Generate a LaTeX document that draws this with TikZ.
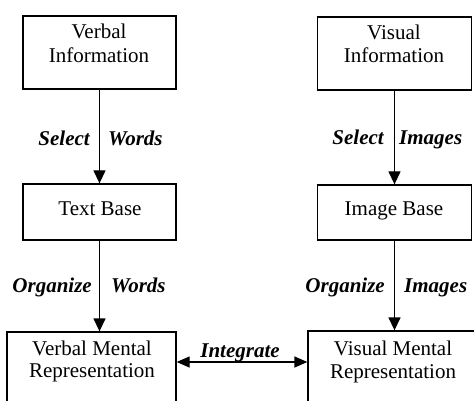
\documentclass[tikz,border=0pt]{standalone}
\usepackage{fontspec}
\setmainfont{Liberation Serif}
\usetikzlibrary{arrows.meta}

\tikzset{
  box/.style={draw, line width=1.3pt, inner sep=0pt, minimum width=153pt},
  txt/.style={inner sep=0pt, anchor=base, font=\fontsize{21}{24}\selectfont},
  act/.style={inner sep=0pt, font=\fontsize{21}{24}\selectfont\bfseries\itshape},
  flow/.style={line width=1.3pt, -{Triangle[length=13pt,width=12pt]}},
  both/.style={line width=1.3pt, {Triangle[length=13pt,width=11pt]}-{Triangle[length=13pt,width=11pt]}}
}

\begin{document}
\begin{tikzpicture}[x=1pt,y=-1pt]
  \useasboundingbox (0,0) rectangle (474,401);
  \clip (0,0) rectangle (474,401);

  % verbal channel
  \node[box, minimum height=73pt] (vinfo) at (99.5,52.5) {};
  \node[txt] (vinfo1) at (99,39) {Verbal};
  \node[txt] (vinfo2) at (99,63) {Information};

  \node[box, minimum height=56pt] (tbase) at (99.5,212) {};
  \node[txt] (tbase1) at (100,215) {Text Base};

  \node[box, minimum width=169pt, minimum height=100pt] (vmrep) at (91.5,382) {};
  \node[txt] (vmrep1) at (92,355) {Verbal Mental};
  \node[txt] (vmrep2) at (92,377) {Representation};

  % visual channel
  \node[box, minimum width=154pt, minimum height=73pt] (pinfo) at (394.5,53.5) {};
  \node[txt] (pinfo1) at (394,40) {Visual};
  \node[txt] (pinfo2) at (394,63) {Information};

  \node[box, minimum width=154pt, minimum height=55pt] (ibase) at (394.5,212.5) {};
  \node[txt] (ibase1) at (394,215) {Image Base};

  \node[box, minimum width=172pt, minimum height=100pt] (pmrep) at (394,381) {};
  \node[txt] (pmrep1) at (393,355) {Visual Mental};
  \node[txt] (pmrep2) at (393,378) {Representation};

  % processes
  \draw[flow] (vinfo) -- (tbase);
  \draw[flow] (tbase) -- (tbase.south |- vmrep.north);
  \draw[flow] (pinfo) -- (ibase);
  \draw[flow] (ibase) -- (ibase.south |- pmrep.north);

  \coordinate (mid) at (0,362);
  \draw[both] (vmrep.east |- mid) -- (pmrep.west |- mid);

  % process labels
  \node[act, anchor=base east] (sel1) at (90,146) {Select};
  \node[act, anchor=base west] (sel2) at (108,146) {Words};
  \node[act, anchor=base east] (org1) at (92,292) {Organize};
  \node[act, anchor=base west] (org2) at (111,292) {Words};

  \node[act, anchor=base east] (sel3) at (384,145) {Select};
  \node[act, anchor=base west] (sel4) at (399,145) {Images};
  \node[act, anchor=base east] (org3) at (385,292) {Organize};
  \node[act, anchor=base west] (org4) at (404,292) {Images};

  \node[act, anchor=base] (integ) at (240,357) {Integrate};
\end{tikzpicture}
\end{document}
